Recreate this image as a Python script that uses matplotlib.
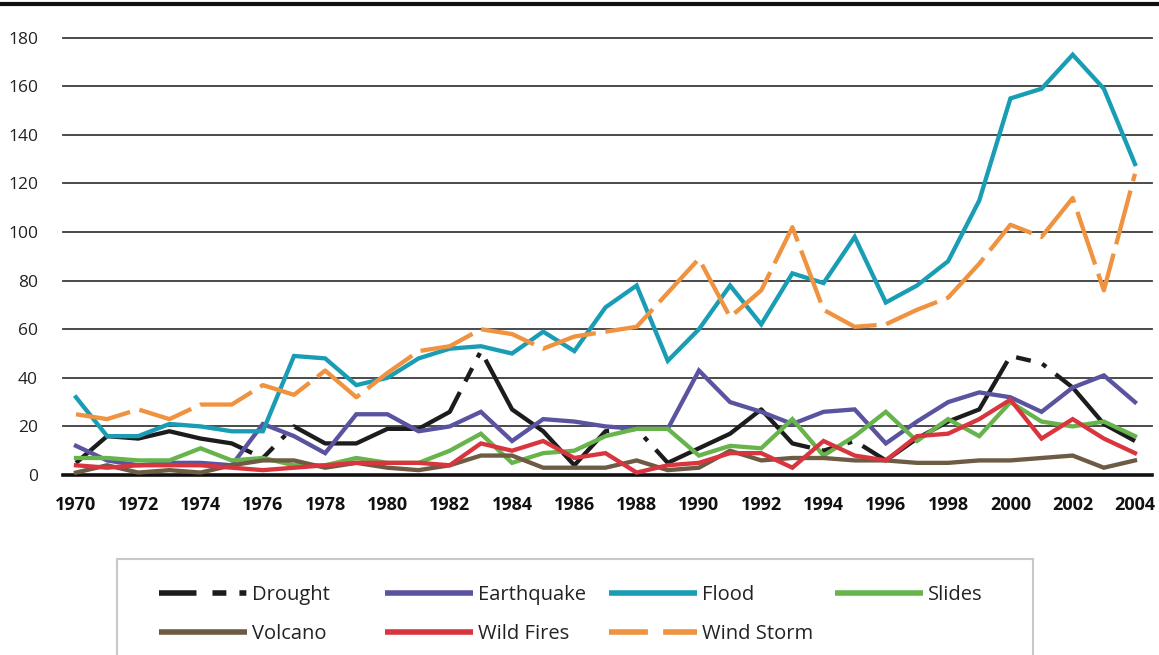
import matplotlib
matplotlib.use("Agg")
import matplotlib.pyplot as plt
from matplotlib.lines import Line2D
from matplotlib.patches import Rectangle

plt.rcParams['font.family'] = ['Open Sans', 'DejaVu Sans']
plt.rcParams['lines.scale_dashes'] = False

years = list(range(1970, 2005))
drought = [5, 16, 15, 18, 15, 13, 7, 20, 13, 13, 19, 19, 26, 51, 27, 18, 4, 18,
           19, 5, 11, 17, 27, 13, 10, 14, 6, 15, 22, 27, 49, 46, 36, 21, 14]
earthquake = [12, 6, 4, 5, 5, 4, 21, 16, 9, 25, 25, 18, 20, 26, 14, 23, 22, 20,
              19, 19, 43, 30, 26, 21, 26, 27, 13, 22, 30, 34, 32, 26, 36, 41, 30]
flood = [32, 16, 16, 21, 20, 18, 18, 49, 48, 37, 40, 48, 52, 53, 50, 59, 51, 69,
         78, 47, 60, 78, 62, 83, 79, 98, 71, 78, 88, 113, 155, 159, 173, 159, 128]
slides = [7, 7, 6, 6, 11, 6, 7, 4, 4, 7, 5, 5, 10, 17, 5, 9, 10, 16,
          19, 19, 8, 12, 11, 23, 8, 16, 26, 14, 23, 16, 30, 22, 20, 22, 16]
volcano = [1, 4, 1, 2, 1, 4, 6, 6, 3, 5, 3, 2, 4, 8, 8, 3, 3, 3,
           6, 2, 3, 10, 6, 7, 7, 6, 6, 5, 5, 6, 6, 7, 8, 3, 6]
wild_fires = [4, 3, 4, 4, 4, 3, 2, 3, 4, 5, 5, 5, 4, 13, 10, 14, 7, 9,
              1, 4, 5, 9, 9, 3, 14, 8, 6, 16, 17, 23, 31, 15, 23, 15, 9]
wind_storm = [25, 23, 27, 23, 29, 29, 37, 33, 43, 32, 42, 51, 53, 60, 58, 52, 57, 59,
              61, 75, 89, 65, 76, 102, 68, 61, 62, 68, 73, 87, 103, 98, 114, 76, 124]

names = ['Drought', 'Earthquake', 'Flood', 'Slides', 'Volcano', 'Wild Fires', 'Wind Storm']
series = [drought, earthquake, flood, slides, volcano, wild_fires, wind_storm]
colors = ['#1c1c1c', '#5a54a0', '#189db4', '#67b44d', '#6d5b43', '#d9353e', '#ef9341']
# dash patterns (points) used on the chart and in the legend
chart_dash = {'Drought': (137, 8.6, 10.8, 8.6, 3.6, 8.6), 'Wind Storm': (40, 7)}
legend_dash = {'Drought': (27, 11.5, 10, 9.4, 5, 9.4), 'Wind Storm': (28, 11)}

W, H = 1159, 655
fig = plt.figure(figsize=(W / 100, H / 100), dpi=100)
ax = fig.add_axes([63 / W, 1 - 475 / H, 1089 / W, 437.3 / H])

for name, vals, col in zip(names, series, colors):
    if name in chart_dash:
        ax.plot(years, vals, color=col, lw=3.1, dashes=chart_dash[name],
                solid_capstyle='butt', dash_capstyle='butt')
    else:
        ax.plot(years, vals, color=col, lw=3.1, solid_joinstyle='miter')

ax.set_xlim(1969.583, 2004.546)
ax.set_ylim(0, 180)
ax.set_yticks(range(0, 181, 20))
ax.set_xticks(range(1970, 2005, 2))
ax.yaxis.grid(True, color='#3c3c3c', lw=1.3)
for gl in ax.get_ygridlines():
    gl.set_clip_on(False)
ax.set_axisbelow(True)
ax.axhline(0, color='#111111', lw=2.6, clip_on=False, zorder=1.5)
for s in ax.spines.values():
    s.set_visible(False)
ax.tick_params(axis='y', length=0, pad=18, labelsize=12.5, labelcolor='#222222')
ax.tick_params(axis='x', length=0, pad=15, labelsize=13, labelcolor='#111111')
for lbl in ax.get_xticklabels():
    lbl.set_fontweight('bold')

# thick rule at the top of the figure
fig.add_artist(Line2D([0, 1], [1 - 3.5 / H] * 2, transform=fig.transFigure,
                      color='#111111', lw=3))

# legend frame (runs off the bottom of the picture)
fig.add_artist(Rectangle((117 / W, -0.05), (1033 - 117) / W, 0.05 + 1 - 559 / H,
                         transform=fig.transFigure, facecolor='white',
                         edgecolor='#c8c8c8', lw=1.5))

handles = {}
for name, col in zip(names, colors):
    if name in legend_dash:
        handles[name] = Line2D([], [], color=col, lw=4, dashes=legend_dash[name],
                               dash_capstyle='butt')
    else:
        handles[name] = Line2D([], [], color=col, lw=4, solid_capstyle='butt')

columns = [(159, ['Drought', 'Volcano']), (385, ['Earthquake', 'Wild Fires']),
           (609, ['Flood', 'Wind Storm']), (835, ['Slides'])]
for x, labs in columns:
    leg = fig.legend([handles[l] for l in labs], labs, loc='upper left',
                     bbox_to_anchor=(x / W, 1 - 585 / H), frameon=False,
                     borderpad=0, borderaxespad=0, handlelength=4.38,
                     handletextpad=0.25, labelspacing=0.95, fontsize=14.5)
    for t in leg.get_texts():
        t.set_color('#222222')

fig.savefig('out.png', dpi=100)
